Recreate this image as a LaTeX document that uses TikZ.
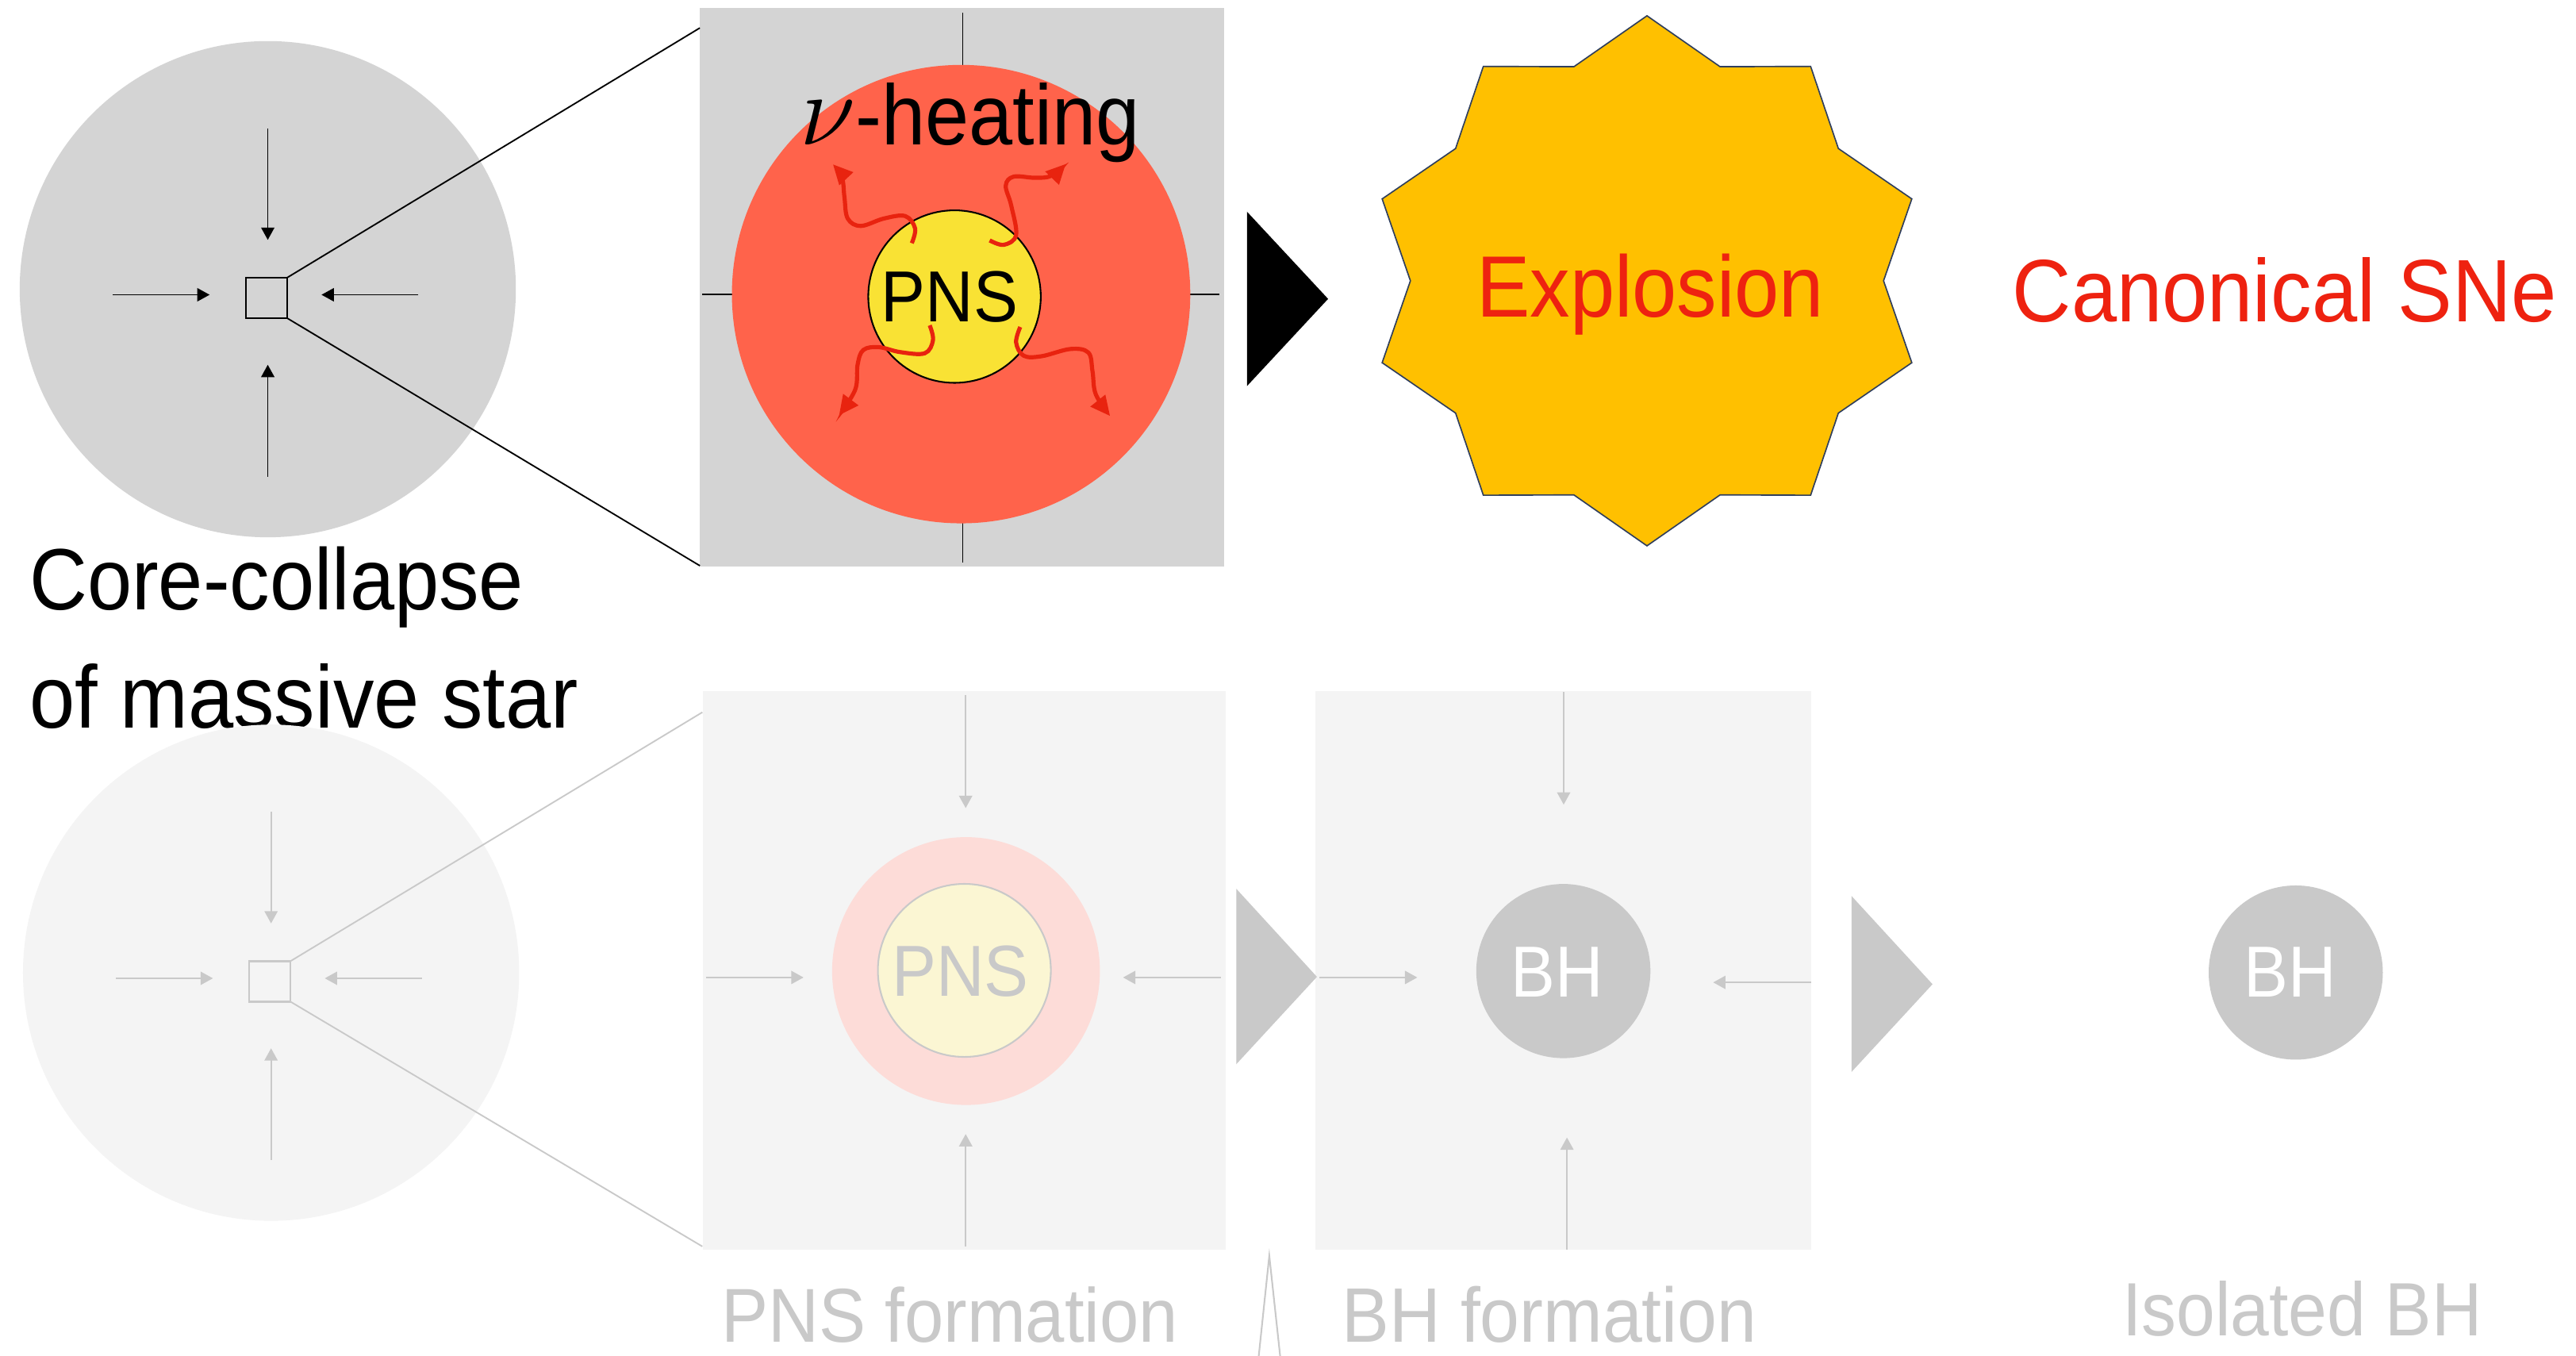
\documentclass[tikz,border=0pt]{standalone}
\usepackage{fix-cm}
\usepackage{fontspec}
\setmainfont{Liberation Sans}[FakeStretch=0.92]
\usetikzlibrary{arrows.meta}

\definecolor{topgray}{HTML}{D4D4D4}
\definecolor{hotred}{HTML}{FF634B}
\definecolor{pnsyel}{HTML}{F9E234}
\definecolor{nured}{HTML}{E8230F}
\definecolor{gold}{HTML}{FFC000}
\definecolor{navy}{HTML}{2F3E5C}
\definecolor{exred}{HTML}{EE2210}
\definecolor{fadebg}{HTML}{F4F4F4}
\definecolor{fadeln}{HTML}{C9C9C9}
\definecolor{fadepink}{HTML}{FDDCD8}
\definecolor{fadeyel}{HTML}{FBF6D3}

\tikzset{
  inarrow/.style={line width=0.9pt, -{Triangle[length=7.5pt,width=8pt]}},
  fadearrow/.style={inarrow, draw=fadeln, line width=1pt},
  nuarrow/.style={draw=nured, line width=2.5pt, -{Triangle[length=12pt,width=11pt]}},
  lbl/.style={inner sep=0pt, outer sep=0pt},
  disc/.style={circle, inner sep=0pt, outer sep=0pt},
  box/.style={rectangle, inner sep=0pt, outer sep=0pt},
  zoomline/.style={line width=0.9pt},
  big/.style={font=\fontsize{53}{60}\selectfont},
  mid/.style={font=\fontsize{46}{52}\selectfont},
  small/.style={font=\fontsize{44}{50}\selectfont},
}

\begin{document}
\begin{tikzpicture}[x=1pt, y=-1pt]
\useasboundingbox (0,0) rectangle (1568,825);
\fill[white] (0,0) rectangle (1568,825);

% ---------- upper row: collapsing star ----------
\node[disc, fill=topgray, minimum size=302pt] (starA) at (163,176) {};
\draw[inarrow] (163,78) -- (163,146);
\draw[inarrow] (163,290) -- (163,222);
\draw[inarrow] (68.6,179.4) -- (127.6,179.4);
\draw[inarrow] (254.7,179.4) -- (195.7,179.4);
\node[box, draw, line width=1.1pt, minimum width=25pt, minimum height=24.6pt] (sqA) at (162.25,181.3) {};

% zoomed core with neutrino heating
\node[box, fill=topgray, minimum width=319pt, minimum height=340pt] (panA) at (585.5,175) {};
\coordinate (zoomAt) at (426,17);
\coordinate (zoomAb) at (426,344.3);
\draw[zoomline] (sqA.north east) -- (zoomAt);
\draw[zoomline] (sqA.south east) -- (zoomAb);
\draw[line width=0.9pt] (586,7.8) -- (586,342.6);
\draw[line width=0.9pt] (427.5,179) -- (742,179);
\node[disc, fill=hotred, minimum size=279pt] (shellA) at (585,179) {};
\node[disc, draw, fill=pnsyel, line width=1pt, minimum size=105pt] (pnsA) at (581,180.5) {};
\node[lbl, small, anchor=base] (pnsAtxt) at (578,196) {PNS};

\draw[nuarrow] plot[smooth, tension=0.6] coordinates
  {(555,148) (557,139) (551,131.5) (538,133) (524,137.5) (516,133) (514,120) (512.5,108) (507,100)};
\draw[nuarrow] plot[smooth, tension=0.6] coordinates
  {(602.4,146.3) (611,149) (618.5,143) (615.5,125) (612.2,113) (617,107.5) (630,108.2) (640,107) (648.7,99.8)};
\draw[nuarrow] plot[smooth, tension=0.6] coordinates
  {(565.9,198) (567.9,207) (562.9,215) (548,214.3) (535,211.3) (525.5,213) (522,222) (520.6,237) (510.7,252.8)};
\draw[nuarrow] plot[smooth, tension=0.6] coordinates
  {(621,199) (618.5,208.4) (623.1,216.5) (634,216.8) (651.6,212.4) (662.5,214.6) (665,226) (667,240) (675.7,253.2)};

\node[lbl, anchor=base west, font=\fontsize{52}{60}\selectfont] (nuheat) at (487,88)
  {{\fontsize{62}{62}\selectfont$\nu$}-heating};

% step to the explosion
\fill (759,128.8) -- (808.4,181.9) -- (759,235) -- cycle;

\draw[draw=navy, fill=gold, line width=0.8pt]
  (1146.5,170.9) -- (1163.7,121.05) -- (1119.0,90.4) -- (1102.1,40.4) -- (1047.0,40.6)
  -- (1002.5,9.6) -- (958.0,40.6) -- (902.9,40.4) -- (886.0,90.4) -- (841.3,121.05)
  -- (858.5,170.9) -- (841.3,220.75) -- (886.0,251.4) -- (902.9,301.4) -- (958.0,301.2)
  -- (1002.5,332.2) -- (1047.0,301.2) -- (1102.1,301.4) -- (1119.0,251.4) -- (1163.7,220.75)
  -- cycle;
\node[lbl, big, anchor=base, text=exred] (expl) at (1004.5,193) {Explosion};
\node[lbl, anchor=base west, text=exred, font=\fontsize{54}{60}\selectfont] (canon) at (1225,196) {Canonical SNe};

\node[lbl, big, anchor=base west] (cc1) at (18,371) {Core-collapse};
\node[lbl, anchor=base west, font=\fontsize{54}{60}\selectfont] (cc2) at (18,443) {of massive star};

% ---------- lower row (faded) ----------
\node[disc, fill=fadebg, minimum size=302pt] (starB) at (165,592) {};
\draw[fadearrow] (165,494) -- (165,562);
\draw[fadearrow] (165,706) -- (165,638);
\draw[fadearrow] (70.6,595.4) -- (129.6,595.4);
\draw[fadearrow] (256.7,595.4) -- (197.7,595.4);
\node[box, draw=fadeln, line width=1.1pt, minimum width=25pt, minimum height=24.6pt] (sqB) at (164.25,597.3) {};

\node[box, fill=fadebg, minimum width=318.4pt, minimum height=340pt] (panB) at (587.1,590.8) {};
\coordinate (zoomBt) at (427.5,433.5);
\coordinate (zoomBb) at (427.5,758.6);
\draw[zoomline, draw=fadeln] (sqB.north east) -- (zoomBt);
\draw[zoomline, draw=fadeln] (sqB.south east) -- (zoomBb);
\draw[fadearrow] (587.8,423) -- (587.8,491.8);
\draw[fadearrow] (587.8,758.5) -- (587.8,690.2);
\draw[fadearrow] (429.6,594.9) -- (489.1,594.9);
\draw[fadearrow] (743.3,594.9) -- (683.6,594.9);
\node[disc, fill=fadepink, minimum size=163pt] (shellB) at (588,591) {};
\node[disc, draw=fadeln, fill=fadeyel, line width=1pt, minimum size=105.3pt] (pnsB) at (587,590.6) {};
\node[lbl, small, anchor=base, text=fadeln] (pnsBtxt) at (584.5,606.4) {PNS};

\node[box, fill=fadebg, minimum width=301.8pt, minimum height=340pt] (panC) at (951.5,590.75) {};
\draw[fadearrow] (951.8,421) -- (951.8,489.7);
\draw[fadearrow] (953.8,760.5) -- (953.8,692.3);
\draw[fadearrow] (803.3,594.9) -- (862.7,594.9);
\draw[fadearrow] (1102.4,597.9) -- (1042.8,597.9);
\node[disc, fill=fadeln, minimum size=106pt] (bhC) at (951.6,591) {};
\node[lbl, small, anchor=base, text=white] (bhCtxt) at (948,606.7) {BH};

\fill[fadeln] (752.5,540.9) -- (801.6,594.5) -- (752.5,647.7) -- cycle;
\fill[fadeln] (1127,545.3) -- (1176.3,599) -- (1127,652.4) -- cycle;

\node[disc, fill=fadeln, minimum size=106pt] (bhD) at (1397.4,591.9) {};
\node[lbl, small, anchor=base, text=white] (bhDtxt) at (1394,606.7) {BH};

\draw[draw=fadeln, fill=white, line width=1pt] (766,827) -- (772.6,764.3) -- (779.4,827);

\node[lbl, anchor=base west, text=fadeln, font=\fontsize{46.5}{52}\selectfont] (pnsform) at (439,817) {PNS formation};
\node[lbl, anchor=base west, text=fadeln, font=\fontsize{47}{52}\selectfont] (bhform) at (817,817) {BH formation};
\node[lbl, mid, anchor=base west, text=fadeln] (isobh) at (1292,813) {Isolated BH};
\end{tikzpicture}
\end{document}
